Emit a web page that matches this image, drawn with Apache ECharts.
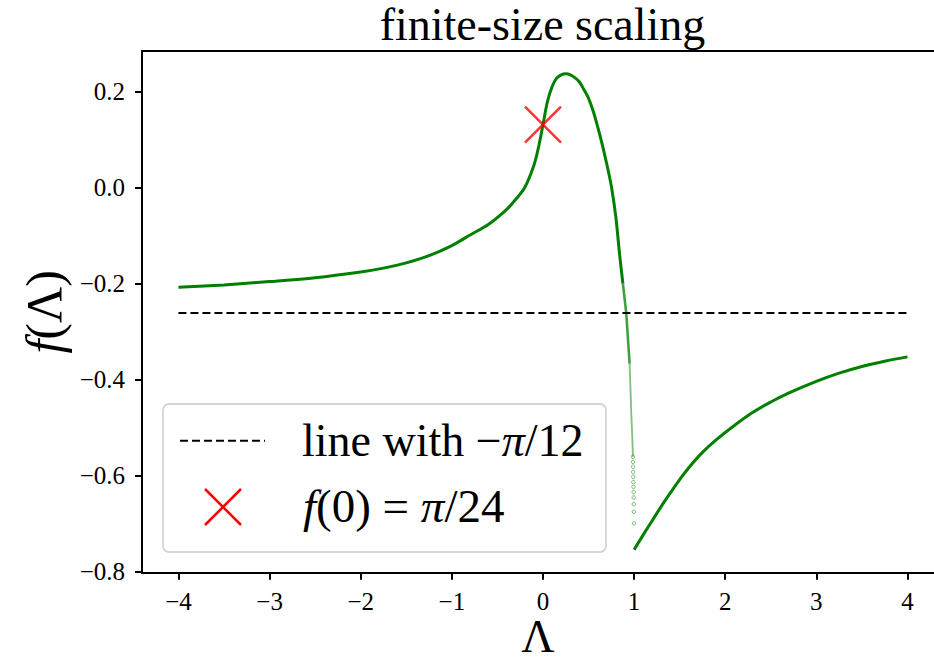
<!DOCTYPE html>
<html><head><meta charset="utf-8">
<script src="https://cdn.jsdelivr.net/npm/echarts@6/dist/echarts.min.js"></script>
<style>html,body{margin:0;padding:0;background:#fff}#c{width:934px;height:666px}</style>
</head><body><div id="c"></div>
<script>
// ---- data ----
const titleText = 'finite-size scaling';
const xTicks = [-4, -3, -2, -1, 0, 1, 2, 3, 4];
const yTicks = [-0.8, -0.6, -0.4, -0.2, 0, 0.2];

// left branch (Λ < 1), solid part
const leftX = [-4.0, -3.5, -3.0, -2.5, -2.0, -1.75, -1.5, -1.25, -1.0, -0.8, -0.6, -0.4, -0.3, -0.2, -0.1, -0.05, 0.0, 0.05, 0.1, 0.15, 0.2, 0.25, 0.3, 0.35, 0.4, 0.45, 0.5, 0.55, 0.6, 0.65, 0.7, 0.75, 0.8, 0.841, 0.877];
const leftY = [-0.208, -0.203, -0.196, -0.188, -0.176, -0.168, -0.157, -0.142, -0.121, -0.099, -0.077, -0.046, -0.025, 0.000, 0.046, 0.083, 0.131, 0.180, 0.210, 0.228, 0.235, 0.237, 0.235, 0.229, 0.220, 0.204, 0.186, 0.160, 0.127, 0.090, 0.049, 0.003, -0.062, -0.140, -0.200];
// steep part where the sampled points spread out
const tailX = [0.877, 0.914, 0.951];
const tailY = [-0.200, -0.262, -0.367];
const tail2X = [0.951, 0.969, 0.980, 0.987];
const tail2Y = [-0.367, -0.471, -0.520, -0.561];
const dotX = [0.9875, 0.9885, 0.9895, 0.9905, 0.9915, 0.9925, 0.9935, 0.9945, 0.9955, 0.9965, 0.9975, 0.9985];
const dotY = [-0.561, -0.572, -0.582, -0.593, -0.603, -0.614, -0.624, -0.635, -0.646, -0.660, -0.676, -0.700];
// right branch (Λ > 1)
const rightX = [1.0, 1.1, 1.2, 1.3, 1.4, 1.5, 1.6, 1.75, 1.9, 2.1, 2.3, 2.5, 2.7, 3.0, 3.25, 3.5, 3.75, 4.0];
const rightY = [-0.755, -0.724, -0.694, -0.664, -0.636, -0.609, -0.584, -0.552, -0.526, -0.496, -0.469, -0.447, -0.428, -0.404, -0.387, -0.373, -0.362, -0.353];
// reference line -π/12 and marker f(0)=π/24
const refLineX = [-4, 4];
const refLineValue = -0.2618;
const markerX = [0];
const markerY = [0.1309];

const zip = (a, b) => a.map((v, i) => [v, b[i]]);
const fmtNum = (v, d) => (v < 0 ? '\u2212' : '') + Math.abs(v).toFixed(d);
const FONT = 'Liberation Serif';
const GREEN = '#008000';
const X_MIN = -4.4, X_MAX = 4.291;

const chart = echarts.init(document.getElementById('c'), null, {renderer: 'svg'});
const option = {
  animation: false,
  backgroundColor: '#fff',
  title: {
    text: titleText, left: 542.5, textAlign: 'center', top: 1, padding: 0,
    textStyle: {fontFamily: FONT, fontSize: 46, fontWeight: 'normal', color: '#000'}
  },
  grid: {left: 142, right: 0, top: 51, bottom: 93.3, outerBoundsMode: 'none', containLabel: false},
  xAxis: [{
    type: 'value', min: X_MIN, max: X_MAX, position: 'bottom',
    name: 'Λ', nameLocation: 'middle', nameGap: 45, nameMoveOverlap: false,
    nameTextStyle: {fontFamily: FONT, fontSize: 46, lineHeight: 38, color: '#000'},
    axisLine: {onZero: false, lineStyle: {color: '#000', width: 2}},
    axisTick: {customValues: xTicks, length: 7, lineStyle: {color: '#000', width: 2}},
    axisLabel: {customValues: xTicks, formatter: v => fmtNum(v, 0), fontFamily: FONT, fontSize: 25, lineHeight: 24, color: '#000', margin: 17},
    splitLine: {show: false}
  }, {
    type: 'value', min: X_MIN, max: X_MAX, position: 'top',
    axisLine: {onZero: false, lineStyle: {color: '#000', width: 2}},
    axisTick: {show: false}, axisLabel: {show: false}, splitLine: {show: false}
  }],
  yAxis: {
    type: 'value', min: -0.8029, max: 0.2846,
    name: '{i|f}(Λ)', nameLocation: 'middle', nameGap: 73, nameMoveOverlap: false,
    nameTextStyle: {fontFamily: FONT, fontSize: 50, color: '#000', rich: {i: {fontFamily: FONT, fontSize: 50, fontStyle: 'italic', color: '#000'}}},
    axisLine: {onZero: false, lineStyle: {color: '#000', width: 2}},
    axisTick: {customValues: yTicks, length: 7, lineStyle: {color: '#000', width: 2}},
    axisLabel: {customValues: yTicks, formatter: v => fmtNum(v, 1), fontFamily: FONT, fontSize: 25, color: '#000', margin: 17},
    splitLine: {show: false}
  },
  series: [
    {type: 'line', name: 'f', data: zip(leftX, leftY), symbol: 'none', smooth: 0.3, silent: true,
     lineStyle: {color: GREEN, width: 3}, z: 2},
    {type: 'line', name: 'tail', data: zip(tailX, tailY), symbol: 'none', silent: true,
     lineStyle: {color: GREEN, width: 2.6, opacity: 0.75}, z: 2},
    {type: 'line', name: 'tail2', data: zip(tail2X, tail2Y), symbol: 'none', silent: true,
     lineStyle: {color: GREEN, width: 1.8, opacity: 0.5}, z: 2},
    {type: 'scatter', name: 'dots', data: zip(dotX, dotY), symbol: 'circle', symbolSize: 3.5, silent: true,
     itemStyle: {color: 'rgba(255,255,255,0)', borderColor: 'rgba(0,128,0,0.65)', borderWidth: 1}, z: 2},
    {type: 'line', name: 'f right', data: zip(rightX, rightY), symbol: 'none', smooth: 0.4, silent: true,
     lineStyle: {color: GREEN, width: 3}, z: 2},
    {type: 'line', name: 'line with −π/12', data: refLineX.map(x => [x, refLineValue]), symbol: 'none', silent: true,
     lineStyle: {color: '#000', width: 2, type: [8, 4]}, z: 3},
    {type: 'scatter', name: 'f(0)=π/24', data: zip(markerX, markerY), symbol: 'path://M0,0L10,10M10,0L0,10', symbolSize: 36, silent: true,
     itemStyle: {color: 'none', borderColor: '#ff0000', borderWidth: 2.5}, z: 5}
  ],
  graphic: [
    {type: 'rect', z: 10, shape: {x: 163, y: 404, width: 443, height: 148, r: 6},
     style: {fill: 'rgba(255,255,255,0.8)', stroke: '#d4d4d4', lineWidth: 1.8}},
    {type: 'line', z: 11, shape: {x1: 180, y1: 440.7, x2: 265, y2: 440.7},
     style: {stroke: '#000', lineWidth: 2, lineDash: [8, 4]}},
    {type: 'line', z: 11, shape: {x1: 205, y1: 489, x2: 241, y2: 525}, style: {stroke: '#ff0000', lineWidth: 2.5}},
    {type: 'line', z: 11, shape: {x1: 241, y1: 489, x2: 205, y2: 525}, style: {stroke: '#ff0000', lineWidth: 2.5}},
    {type: 'text', z: 11, x: 302, y: 440,
     style: {text: 'line with \u2212{i|π}/12', fontFamily: FONT, fontSize: 46, fill: '#000', verticalAlign: 'middle',
             rich: {i: {fontFamily: FONT, fontSize: 46, fontStyle: 'italic', fill: '#000'}}}},
    {type: 'text', z: 11, x: 303, y: 506,
     style: {text: '{i|f}(0) = {i|π}/24', fontFamily: FONT, fontSize: 47, fill: '#000', verticalAlign: 'middle',
             rich: {i: {fontFamily: FONT, fontSize: 47, fontStyle: 'italic', fill: '#000'}}}}
  ]
};
chart.setOption(option);
</script>
</body></html>
